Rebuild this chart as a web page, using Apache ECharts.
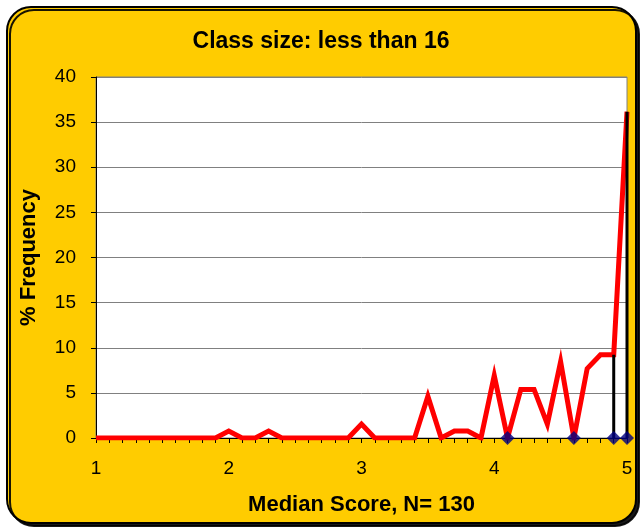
<!DOCTYPE html>
<html>
<head>
<meta charset="utf-8">
<script src="https://cdn.jsdelivr.net/npm/echarts@6/dist/echarts.min.js"></script>
<style>
html,body{margin:0;padding:0;background:#fff;}
#c{width:642px;height:529px;}
</style>
</head>
<body>
<div id="c"></div>
<script>
const titleText = 'Class size: less than 16';
const xAxisTitle = 'Median Score, N= 130';
const yAxisTitle = '% Frequency';
const scores = [1.0,1.1,1.2,1.3,1.4,1.5,1.6,1.7,1.8,1.9,
                2.0,2.1,2.2,2.3,2.4,2.5,2.6,2.7,2.8,2.9,
                3.0,3.1,3.2,3.3,3.4,3.5,3.6,3.7,3.8,3.9,
                4.0,4.1,4.2,4.3,4.4,4.5,4.6,4.7,4.8,4.9,5.0];
const freq = [0,0,0,0,0,0,0,0,0,0,
              0.77,0,0,0.77,0,0,0,0,0,0,
              1.54,0,0,0,0,4.62,0,0.77,0.77,0,
              6.92,0,5.38,5.38,1.54,8.46,0,7.69,9.23,9.23,36.15];
const markerX = [4.1, 4.6, 4.9, 5.0];
const markerY = [0, 0, 0, 0];
const dropX = [4.9, 5.0];
const yTicks = [0,5,10,15,20,25,30,35,40];

function freqAt(x){
  const i = scores.findIndex(s => Math.abs(s - x) < 1e-6);
  return i >= 0 ? freq[i] : 0;
}

const chart = echarts.init(document.getElementById('c'), null, {renderer:'canvas'});
const font = 'Liberation Sans, Arial, sans-serif';

const dropSeries = dropX.map(x => ({
  type:'line',
  data:[[x,0],[x,freqAt(x)]],
  symbol:'none',
  lineStyle:{color:'#000',width:3},
  z:3,
  silent:true
}));

chart.setOption({
  backgroundColor:'#ffffff',
  animation:false,
  graphic:[{
    type:'rect',
    z:-100,
    shape:{x:7,y:7,width:629,height:516,r:24},
    style:{fill:'#FFCC00',stroke:'#000',lineWidth:2,shadowColor:'rgba(0,0,0,0.9)',shadowOffsetX:3,shadowOffsetY:3,shadowBlur:0}
  }],
  title:{
    text:titleText,
    left:'center',
    top:25,
    textStyle:{fontFamily:font,fontWeight:'bold',fontSize:23,color:'#000'}
  },
  grid:{
    left:96, right:15, top:77, bottom:91,
    show:true, backgroundColor:'#fff', borderColor:'#808080', borderWidth:1
  },
  xAxis:{
    type:'value',
    min:1, max:5, interval:0.1,
    name:xAxisTitle,
    nameLocation:'middle',
    nameGap:56,
    nameTextStyle:{fontFamily:font,fontWeight:'bold',fontSize:22,color:'#000'},
    axisLine:{show:true,lineStyle:{color:'#000',width:1}},
    axisTick:{show:true,inside:false,length:5,lineStyle:{color:'#000'}},
    axisLabel:{
      show:true, margin:21,
      fontFamily:font, fontSize:19, color:'#000',
      showMinLabel:true, showMaxLabel:true,
      interval:0,
      formatter:function(v){
        return Math.abs(v-Math.round(v))<1e-6 ? String(Math.round(v)) : '';
      }
    },
    splitLine:{show:false}
  },
  yAxis:{
    type:'value',
    min:0, max:40, interval:5,
    name:yAxisTitle,
    nameLocation:'middle',
    nameGap:56,
    nameTextStyle:{fontFamily:font,fontWeight:'bold',fontSize:22,color:'#000'},
    axisLine:{show:true,lineStyle:{color:'#000',width:1}},
    axisTick:{show:true,inside:false,length:5,lineStyle:{color:'#000'}},
    axisLabel:{fontFamily:font,fontSize:19,color:'#000',margin:20,
      formatter:function(v){return yTicks.indexOf(v)>=0?String(v):'';}},
    splitLine:{show:true,lineStyle:{color:'#808080',width:1}}
  },
  series:[
    {
      type:'line',
      data:scores.map((s,i)=>[s,freq[i]]),
      symbol:'none',
      lineStyle:{color:'#FF0000',width:5,join:'miter'},
      z:2,
      silent:true
    },
    ...dropSeries,
    {
      type:'scatter',
      data:markerX.map((x,i)=>[x,markerY[i]]),
      symbol:'diamond',
      symbolSize:[14,14],
      itemStyle:{color:'#000080'},
      z:4,
      silent:true
    }
  ]
});
</script>
</body>
</html>
